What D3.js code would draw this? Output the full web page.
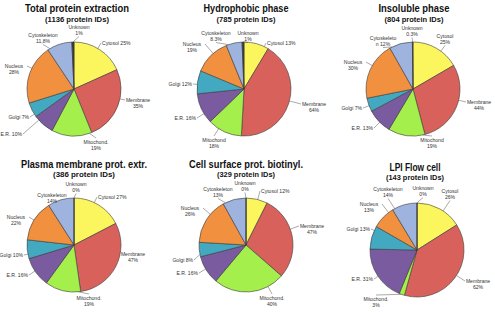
<!DOCTYPE html>
<head>
<meta charset="utf-8">
<style type="text/css">
  body { margin: 0; background: #fff; }
  text { font-family: "Liberation Sans", Arial, sans-serif; }
</style>
</head>
<body>
<div id="my_dataviz"></div>
<script src="https://d3js.org/d3.v7.min.js"></script>
<script type="text/javascript">

// categories, clockwise from 12 o'clock
var categories = ["Cytosol", "Membrane", "Mitochond", "E.R.", "Golgi", "Nucleus", "Cytoskeleton", "Unknown"];

// chart titles
var titles = ["Total protein extraction", "Hydrophobic phase", "Insoluble phase",
              "Plasma membrane prot. extr.", "Cell surface prot. biotinyl.", "LPI Flow cell"];
var subtitles = ["(1136 protein IDs)", "(785 protein IDs)", "(804 protein IDs)",
                 "(386 protein IDs)", "(329 protein IDs)", "(143 protein IDs)"];

// percentages per chart (same order as categories)
var totalExtraction = [25, 35, 19, 10, 7, 28, 11.8, 1];
var hydrophobic     = [13, 64, 18, 16, 12, 19, 8.3, 1];
var insoluble       = [25, 44, 19, 13, 7, 30, 12, 0.3];
var plasmaMembrane  = [27, 47, 19, 16, 10, 22, 14, 0];
var cellSurface     = [12, 47, 40, 16, 8, 26, 13, 0];
var lpiFlowCell     = [26, 62, 3, 31, 13, 13, 14, 0];
var series = [totalExtraction, hydrophobic, insoluble, plasmaMembrane, cellSurface, lpiFlowCell];

// slice labels as printed on the chart ("|" = line break)
var labels = [
  ["Cytosol 25%", "Membrane|35%", "Mitochond.|19%", "E.R. 10%", "Golgi 7%", "Nucleus|28%", "Cytoskeleton|11,8%", "Unknown|1%"],
  ["Cytosol 13%", "Membrane|64%", "Mitochond|18%", "E.R. 16%", "Golgi 12%", "Nucleus|19%", "Cytoskeleton|8.3%", "Unknown|1%"],
  ["Cytosol|25%", "Membrane|44%", "Mitochond|19%", "E.R. 13%", "Golgi 7%", "Nucleus|30%", "Cytoskeleto|n 12%", "Unknown|0.3%"],
  ["Cytosol 27%", "Membrane|47%", "Mitochond.|19%", "E.R. 16%", "Golgi 10%", "Nucleus|22%", "Cytoskeleton|14%", "Unknown|0%"],
  ["Cytosol 12%", "Membrane|47%", "Mitochond.|40%", "E.R. 16%", "Golgi 8%", "Nucleus|26%", "Cytoskeleton|13%", "Unknown|0%"],
  ["Cytosol|26%", "Membrane|62%", "Mitochond.|3%", "E.R. 31%", "Golgi 13%", "Nucleus|13%", "Cytoskeleton|14%", "Unknown|0%"]
];

var colors = ["#fbf55e", "#d8625b", "#a5ef4d", "#7b5b9f", "#43a9c1", "#f1913f", "#9fb3df", "#3a3a3a"];

// layout of the six panels
var W = 495, H = 312, R = 47;
var panels = [
  {cx: 74,  cy: 89,  tx: 77,  ty: 12,  tw: 104, sy: 22,  sw: 64},
  {cx: 244, cy: 89,  tx: 246, ty: 12,  tw: 85,  sy: 22,  sw: 59},
  {cx: 413, cy: 89,  tx: 414, ty: 12,  tw: 71,  sy: 22,  sw: 59},
  {cx: 74,  cy: 245, tx: 84,  ty: 168, tw: 126, sy: 177, sw: 62},
  {cx: 246, cy: 245, tx: 246, ty: 168, tw: 114, sy: 177, sw: 58},
  {cx: 417, cy: 250, tx: 415, ty: 171, tw: 51,  sy: 180, sw: 58}
];

// where each label sits relative to its pie centre: [anchor, dx, dy of first line]
var S = "start", M = "middle", E = "end";
var labelPos = [
  [[S, 28, -46], [M, 64, 11], [M, 22, 53], [E, -52, 45], [E, -45, 28], [M, -60, -23], [M, -31, -54], [M, 5, -62]],
  [[S, 23, -46], [M, 70, 15], [M, -30, 51], [E, -48, 29], [E, -52, -5], [M, -52, -45], [M, -28, -56], [M, 4, -56]],
  [[M, 32, -53], [M, 66, 13], [M, 19, 51], [E, -40, 39], [E, -51, 19], [M, -60, -27], [M, -30, -51], [M, -1, -61]],
  [[S, 24, -48], [M, 59, 9], [M, 15, 53], [E, -46, 30], [E, -51, 10], [M, -58, -28], [M, -22, -50], [M, 2, -61]],
  [[S, 15, -54], [M, 66, -19], [M, 26, 53], [E, -48, 28], [E, -53, 15], [M, -56, -37], [M, -28, -56], [M, -1, -62]],
  [[M, 33, -59], [M, 61, 31], [M, -41, 49], [E, -44, 29], [E, -47, -21], [M, -48, -46], [M, -29, -61], [M, 6, -62]]
];

var LINE = 6.5, FS = 6.2, SQ = 0.82;

var svg = d3.select("#my_dataviz")
  .append("svg")
    .attr("width", W)
    .attr("height", H);

var color = d3.scaleOrdinal().domain(categories).range(colors);

var pie = d3.pie().sort(null).value(function(d) { return d.value; });
var arc = d3.arc().innerRadius(0).outerRadius(R);

panels.forEach(function(p, i) {
  var g = svg.append("g");

  g.append("text")
    .attr("x", p.tx).attr("y", p.ty)
    .attr("text-anchor", "middle")
    .attr("font-size", 10.5).attr("font-weight", "bold").attr("fill", "#111")
    .attr("textLength", p.tw).attr("lengthAdjust", "spacingAndGlyphs")
    .text(titles[i]);

  g.append("text")
    .attr("x", p.tx).attr("y", p.sy)
    .attr("text-anchor", "middle")
    .attr("font-size", 7.5).attr("font-weight", "bold").attr("fill", "#111")
    .attr("textLength", p.sw).attr("lengthAdjust", "spacingAndGlyphs")
    .text(subtitles[i]);

  var data = categories.map(function(c, j) {
    return {cat: c, value: series[i][j], label: labels[i][j], pos: labelPos[i][j]};
  });
  var arcs = pie(data);

  var pg = g.append("g").attr("transform", "translate(" + p.cx + "," + p.cy + ")");

  pg.selectAll("path.slice")
    .data(arcs)
    .enter()
    .append("path")
      .attr("class", "slice")
      .attr("d", arc)
      .style("fill", function(d) { return color(d.data.cat); })
      .style("stroke", "#3b3b3b")
      .style("stroke-width", 0.6);

  // labels with leader lines back to the slice edge
  pg.selectAll("g.lab")
    .data(arcs)
    .enter()
    .append("g")
      .attr("class", "lab")
    .each(function(d) {
      var anchor = d.data.pos[0], lx = d.data.pos[1], ly = d.data.pos[2];
      var lines = d.data.label.split("|");
      var sel = d3.select(this);

      // attach point on the label
      var ax, ay;
      if (anchor === "end") { ax = lx + 1; ay = ly; }
      else if (anchor === "start") { ax = lx - 1; ay = ly; }
      else if (Math.abs(lx) > 45) {
        ax = lx + (lx > 0 ? -13 : 13); ay = ly;
      }
      else if (ly < 0) { ax = lx; ay = ly + (lines.length - 1) * LINE + 3; }
      else { ax = lx; ay = ly - 4; }

      // nearest point of the slice's rim
      var a = Math.atan2(ax, -ay);
      if (a < 0) a += 2 * Math.PI;
      var pad = Math.min(0.05, (d.endAngle - d.startAngle) / 2);
      a = Math.max(d.startAngle + pad, Math.min(d.endAngle - pad, a));
      var ex = Math.sin(a) * R, ey = -Math.cos(a) * R;

      if (Math.hypot(ax - ex, ay - ey) > 2.5) {
        sel.append("path")
          .attr("d", "M" + ax + "," + ay + "L" + ex + "," + ey)
          .style("stroke", "#555").style("stroke-width", 0.5).style("fill", "none");
      }

      var t = sel.append("text")
        .attr("transform", "translate(" + lx + "," + ly + ") scale(" + SQ + ",1)")
        .attr("text-anchor", anchor)
        .attr("font-size", FS)
        .attr("fill", "#333");
      lines.forEach(function(s, k) {
        t.append("tspan").attr("x", 0).attr("y", k * LINE + 2).text(s);
      });
    });
});

</script>
</body>
